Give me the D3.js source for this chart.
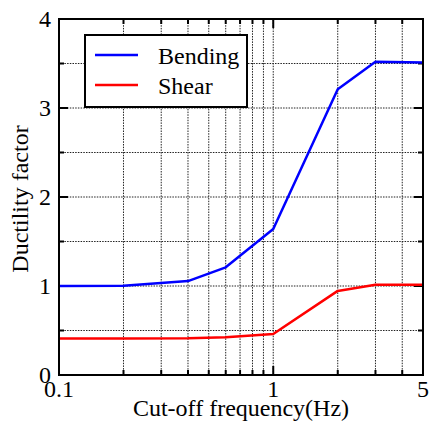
<!DOCTYPE html>
<html>
<head>
<meta charset="utf-8">
<script src="https://cdn.jsdelivr.net/npm/d3@7"></script>
<style>
  html, body { margin: 0; padding: 0; background: #fff; }
</style>
</head>
<body>
<svg id="chart" width="429" height="430"></svg>
<script>
// Cut-off frequency (Hz) at which the ductility factor was evaluated
const frequencies = [0.1, 0.2, 0.4, 0.6, 1, 2, 3, 5];
// Ductility factor for each failure mode
const bending = [1.0, 1.003, 1.055, 1.21, 1.64, 3.21, 3.52, 3.51];
const shear = [0.41, 0.41, 0.413, 0.425, 0.46, 0.945, 1.015, 1.015];
const seriesNames = ["Bending", "Shear"];
const seriesColors = ["#0000ff", "#ff0000"];
// Axis labels
const xTickValues = [0.1, 1, 5];
const xTickLabels = ["0.1", "1", "5"];
const xGridValues = [0.2, 0.3, 0.4, 0.5, 0.6, 0.7, 0.8, 0.9, 1, 2, 3, 4];
const yTickValues = [0, 1, 2, 3, 4];
const yGridValues = [0.5, 1, 1.5, 2, 2.5, 3, 3.5];
const xTitle = "Cut-off frequency(Hz)";
const yTitle = "Ductility factor";

// Pick the first installed serif face
function pickSerif() {
  const ctx = document.createElement("canvas").getContext("2d");
  const probe = "Bending Shear mmmwwwiii 0123";
  const widthOf = f => { ctx.font = `40px ${f}`; return ctx.measureText(probe).width; };
  const candidates = ["Liberation Serif", "Times New Roman", "Tinos", "DejaVu Serif", "Noto Serif", "Times"];
  for (const c of candidates) {
    for (const base of ["monospace", "sans-serif"]) {
      if (widthOf(`"${c}", ${base}`) !== widthOf(base)) return `"${c}", serif`;
    }
  }
  return "serif";
}
const FONT = pickSerif();

const svg = d3.select("#chart").attr("font-family", FONT);
const margin = { left: 59, top: 19, right: 6, bottom: 55 };
const W = 429, H = 430;
const x0 = margin.left, x1 = W - margin.right;
const y0 = H - margin.bottom, y1 = margin.top;

const x = d3.scaleLog().domain([0.1, 5]).range([x0, x1]);
const y = d3.scaleLinear().domain([0, 4]).range([y0, y1]);

// dotted grid
const grid = svg.append("g").attr("stroke", "#222").attr("stroke-width", 1)
  .attr("stroke-dasharray", "1.5,1.2");
grid.selectAll("line.gx").data(xGridValues).join("line")
  .attr("x1", d => x(d)).attr("x2", d => x(d))
  .attr("y1", y0).attr("y2", y1);
grid.selectAll("line.gy").data(yGridValues).join("line")
  .attr("x1", x0).attr("x2", x1)
  .attr("y1", d => y(d)).attr("y2", d => y(d));

// inward ticks on all four sides
const ticks = svg.append("g").attr("stroke", "#000").attr("stroke-width", 2);
const yMinor = [0.5, 1.5, 2.5, 3.5], yMajor = [1, 2, 3];
const tickLen = d => (yMajor.includes(d) ? 9 : 5);
[...yMinor, ...yMajor].forEach(d => {
  ticks.append("line").attr("x1", x0).attr("x2", x0 + tickLen(d)).attr("y1", y(d)).attr("y2", y(d));
  ticks.append("line").attr("x1", x1).attr("x2", x1 - tickLen(d)).attr("y1", y(d)).attr("y2", y(d));
});
xGridValues.forEach(d => {
  const len = d === 1 ? 9 : 5;
  ticks.append("line").attr("x1", x(d)).attr("x2", x(d)).attr("y1", y0).attr("y2", y0 - len);
  ticks.append("line").attr("x1", x(d)).attr("x2", x(d)).attr("y1", y1).attr("y2", y1 + len);
});

// data lines
const line = d3.line().x(d => x(d[0])).y(d => y(d[1]));
[bending, shear].forEach((vals, i) => {
  svg.append("path")
    .datum(frequencies.map((f, j) => [f, vals[j]]))
    .attr("fill", "none")
    .attr("stroke", seriesColors[i])
    .attr("stroke-width", 2.5)
    .attr("stroke-linejoin", "round")
    .attr("d", line);
});

// frame
svg.append("rect").attr("x", x0).attr("y", y1)
  .attr("width", x1 - x0).attr("height", y0 - y1)
  .attr("fill", "none").attr("stroke", "#000").attr("stroke-width", 2);

// tick labels
svg.selectAll("text.xl").data(xTickValues).join("text")
  .attr("x", d => x(d)).attr("y", 397)
  .attr("text-anchor", "middle").attr("font-size", 24)
  .text((d, i) => xTickLabels[i]);
svg.selectAll("text.yl").data(yTickValues).join("text")
  .attr("x", 51).attr("y", d => y(d)).attr("dy", "0.33em")
  .attr("text-anchor", "end").attr("font-size", 24)
  .text(d => d);

// axis titles
svg.append("text").attr("x", (x0 + x1) / 2).attr("y", 416)
  .attr("text-anchor", "middle").attr("font-size", 24)
  .text(xTitle);
svg.append("text")
  .attr("transform", `translate(28,${(y0 + y1) / 2 + 2}) rotate(-90)`)
  .attr("text-anchor", "middle").attr("font-size", 24)
  .text(yTitle);

// legend
const lg = svg.append("g");
lg.append("rect").attr("x", 85).attr("y", 35).attr("width", 162).attr("height", 72)
  .attr("fill", "#fff").attr("stroke", "#000").attr("stroke-width", 2);
seriesNames.forEach((name, i) => {
  const cy = 55 + i * 30;
  lg.append("line").attr("x1", 95).attr("x2", 138).attr("y1", cy).attr("y2", cy)
    .attr("stroke", seriesColors[i]).attr("stroke-width", 2.5);
  lg.append("text").attr("x", 158).attr("y", cy + 9).attr("font-size", 24).text(name);
});
</script>
</body>
</html>
